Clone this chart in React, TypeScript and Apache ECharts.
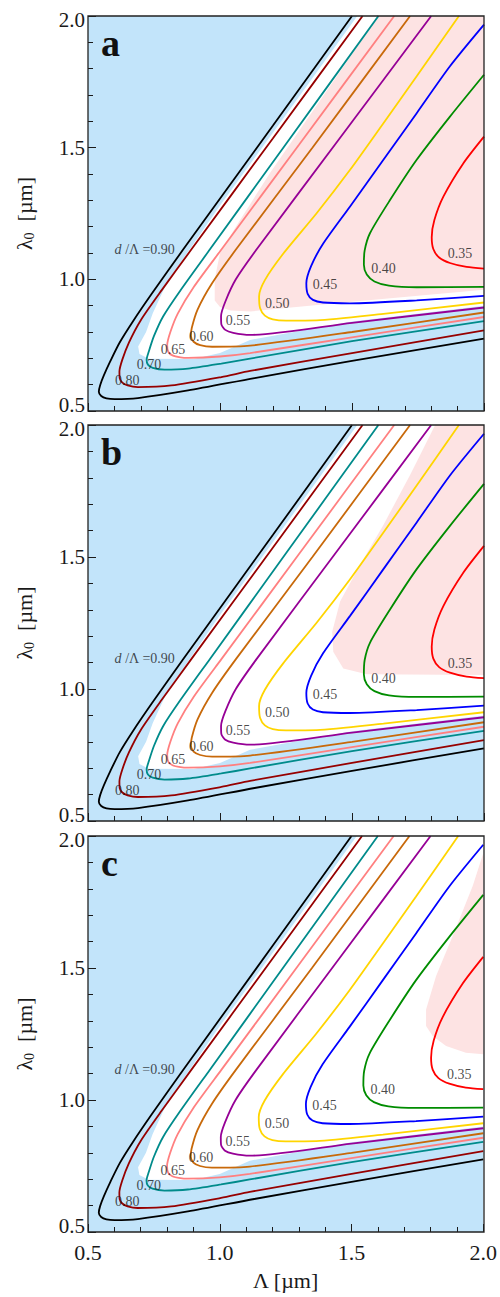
import { useEffect, useRef } from 'react';
import * as echarts from 'echarts';

// ---------- data ----------
const contourLevels = ['0.90', '0.80', '0.70', '0.65', '0.60', '0.55', '0.50', '0.45', '0.40', '0.35'];

const c090 = [[1.50, 2.0], [1.20, 1.583], [0.861, 1.114], [0.74, 0.943], [0.67, 0.84], [0.62, 0.76], [0.585, 0.69], [0.56, 0.635], [0.546, 0.598], [0.541, 0.573], [0.55, 0.557], [0.57, 0.548], [0.601, 0.545], [0.689, 0.549], [0.879, 0.578], [1.131, 0.625], [1.50, 0.69], [2.0, 0.775]];
const c080 = [[1.54, 2.0], [1.20, 1.535], [0.892, 1.114], [0.78, 0.96], [0.70, 0.845], [0.655, 0.76], [0.63, 0.695], [0.619, 0.65], [0.62, 0.625], [0.63, 0.608], [0.65, 0.597], [0.689, 0.591], [0.816, 0.597], [1.005, 0.629], [1.114, 0.652], [1.5, 0.72], [2.0, 0.806]];
const c070 = [[1.60, 2.0], [1.25, 1.514], [0.962, 1.114], [0.85, 0.958], [0.785, 0.86], [0.75, 0.785], [0.73, 0.725], [0.722, 0.695], [0.727, 0.676], [0.745, 0.664], [0.79, 0.657], [0.879, 0.661], [1.005, 0.680], [1.114, 0.699], [1.5, 0.765], [2.0, 0.841]];
const c065 = [[1.66, 2.0], [1.30, 1.512], [1.006, 1.114], [0.90, 0.97], [0.84, 0.87], [0.812, 0.80], [0.80, 0.75], [0.804, 0.725], [0.82, 0.711], [0.85, 0.704], [0.879, 0.702], [1.0, 0.707], [1.114, 0.72], [1.5, 0.78], [2.0, 0.857]];
const c060 = [[1.72, 2.0], [1.35, 1.50], [1.061, 1.114], [0.97, 0.985], [0.915, 0.885], [0.893, 0.815], [0.89, 0.785], [0.90, 0.763], [0.925, 0.75], [0.97, 0.744], [1.114, 0.748], [1.5, 0.80], [2.0, 0.874]];
const c055 = [[1.80, 2.0], [1.45, 1.531], [1.139, 1.114], [1.06, 1.0], [1.02, 0.915], [1.004, 0.86], [1.005, 0.83], [1.02, 0.808], [1.05, 0.797], [1.114, 0.789], [1.5, 0.835], [2.0, 0.893]];
const c050 = [[1.905, 2.0], [1.745, 1.771], [1.619, 1.593], [1.492, 1.415], [1.366, 1.251], [1.240, 1.098], [1.170, 0.997], [1.148, 0.935], [1.152, 0.89], [1.17, 0.862], [1.20, 0.848], [1.25, 0.843], [1.366, 0.844], [1.619, 0.869], [2.0, 0.912]];
const c045 = [[2.0, 1.967], [1.871, 1.809], [1.745, 1.631], [1.619, 1.454], [1.492, 1.276], [1.391, 1.136], [1.345, 1.05], [1.327, 0.985], [1.332, 0.945], [1.352, 0.922], [1.39, 0.912], [1.492, 0.909], [1.745, 0.92], [2.0, 0.937]];
const c040 = [[2.0, 1.777], [1.871, 1.618], [1.745, 1.454], [1.644, 1.301], [1.568, 1.175], [1.548, 1.11], [1.545, 1.055], [1.556, 1.018], [1.585, 0.992], [1.64, 0.976], [1.745, 0.970], [2.0, 0.971]];
const c035 = [[2.0, 1.542], [1.922, 1.441], [1.846, 1.314], [1.812, 1.225], [1.802, 1.16], [1.808, 1.115], [1.83, 1.083], [1.871, 1.062], [1.934, 1.047], [2.0, 1.041]];
const contourData = [c090, c080, c070, c065, c060, c055, c050, c045, c040, c035];

// contour label anchors (x, y) and texts
const labelX = [0.649, 0.731, 0.822, 0.929, 1.068, 1.217, 1.398, 1.619, 1.909];
const labelY = [0.616, 0.677, 0.734, 0.784, 0.842, 0.910, 0.981, 1.041, 1.098];
const labelText = ['0.80', '0.70', '0.65', '0.60', '0.55', '0.50', '0.45', '0.40', '0.35'];
const mainLabel = { x: 0.715, y: 1.114, value: '0.90' };

// shaded regions (white band, pink band per panel)
const whiteRegion = [[1.52, 2.0], [1.25, 1.625], [1.0, 1.28], [0.80, 0.99], [0.745, 0.87], [0.72, 0.80], [0.69, 0.745], [0.695, 0.716], [0.73, 0.698], [0.90, 0.697], [1.0, 0.72], [1.114, 0.77], [1.5, 0.84], [2.0, 0.90], [2.0, 2.0]];
const pinkRegionA = [[1.60, 2.0], [1.19, 1.405], [1.06, 1.20], [1.0, 1.10], [0.98, 1.0], [0.98, 0.92], [1.0, 0.895], [1.04, 0.882], [1.114, 0.878], [1.5, 0.915], [2.0, 0.96], [2.0, 2.0]];
const pinkRegionB = [[1.815, 2.0], [1.720, 1.811], [1.619, 1.621], [1.530, 1.470], [1.455, 1.331], [1.425, 1.217], [1.429, 1.141], [1.467, 1.078], [1.556, 1.056], [2.0, 1.053], [2.0, 2.0]];
const pinkRegionC = [[2.0, 1.935], [1.960, 1.811], [1.884, 1.621], [1.821, 1.470], [1.783, 1.343], [1.783, 1.280], [1.808, 1.242], [1.859, 1.205], [1.934, 1.179], [2.0, 1.173]];
const pinkRegions = [pinkRegionA, pinkRegionB, pinkRegionC];
const panelLetters = ['a', 'b', 'c'];

const axisMin = 0.5;
const axisMax = 2.0;
const axisInterval = 0.5;

// ---------- styles ----------
const contourColors = ['#000000', '#960000', '#008b8b', '#ff8080', '#c8690a', '#960096', '#ffd500', '#0000ff', '#008c00', '#ff0000'];
const BLUE = '#c2e4fa';
const PINK = '#fde3e3';
const WHITE = '#ffffff';
const FONT = '"Liberation Serif", "Times New Roman", serif';
const INK = '#1a1a1a';

const grids = [
  { left: 88, top: 16, width: 396, height: 395 },
  { left: 88, top: 425, width: 396, height: 396 },
  { left: 88, top: 836, width: 396, height: 396 },
];

function polygonSeries(points: number[][], fill: string, gi: number, z: number) {
  return {
    type: 'custom',
    xAxisIndex: gi,
    yAxisIndex: gi,
    z,
    silent: true,
    clip: true,
    data: points,
    encode: { x: 0, y: 1 },
    renderItem: (params: any, api: any) => {
      if (params.dataIndex !== 0) return null;
      const pts = points.map((p) => api.coord(p));
      return { type: 'polygon', shape: { points: pts }, style: { fill, stroke: null } };
    },
  };
}

const tickRich = {
  n: { fontFamily: FONT, fontSize: 21, color: INK, lineHeight: 14 },
  lo: { fontFamily: FONT, fontSize: 21, color: INK, lineHeight: 14, padding: [0, 0, 12, 0] },
  hi: { fontFamily: FONT, fontSize: 21, color: INK, lineHeight: 14, padding: [8, 0, 0, 0] },
};

export default function App() {
  const ref = useRef<HTMLDivElement>(null);

  useEffect(() => {
    if (!ref.current) return;
    const chart = echarts.init(ref.current, undefined, { renderer: 'svg' });

    const xAxis: any[] = [];
    const yAxis: any[] = [];
    const series: any[] = [];
    const graphic: any[] = [];

    grids.forEach((g, gi) => {
      const last = gi === grids.length - 1;
      xAxis.push({
        type: 'value',
        gridIndex: gi,
        min: axisMin,
        max: axisMax,
        interval: axisInterval,
        name: last ? 'Λ [µm]' : '',
        nameLocation: 'middle',
        nameGap: 37,
        nameTextStyle: { fontFamily: FONT, fontSize: 22, color: INK },
        axisLine: { show: false },
        axisTick: { show: true, inside: true, length: 8, lineStyle: { color: INK, width: 1 } },
        minorTick: { show: true, splitNumber: 5, length: 5, lineStyle: { color: INK, width: 1 } },
        splitLine: { show: false },
        axisLabel: {
          show: last,
          margin: 9,
          fontFamily: FONT,
          fontSize: 22,
          color: INK,
          formatter: (v: number) => v.toFixed(1),
        },
      });
      yAxis.push({
        type: 'value',
        gridIndex: gi,
        min: axisMin,
        max: axisMax,
        interval: axisInterval,
        name: '{a|λ}{s|0}{a|  [µm]}',
        nameLocation: 'middle',
        nameRotate: 90,
        nameGap: 52,
        nameTextStyle: {
          color: INK,
          rich: {
            a: { fontFamily: FONT, fontSize: 22, color: INK },
            s: { fontFamily: FONT, fontSize: 14, color: INK, padding: [10, 0, 0, 0] },
          },
        },
        axisLine: { show: false },
        axisTick: { show: true, inside: true, length: 8, lineStyle: { color: INK, width: 1 } },
        minorTick: { show: true, splitNumber: 5, length: 5, lineStyle: { color: INK, width: 1 } },
        splitLine: { show: false },
        axisLabel: {
          show: true,
          margin: 3,
          showMinLabel: true,
          showMaxLabel: true,
          formatter: (v: number) => {
            const t = v.toFixed(1);
            if (v === axisMin) return `{lo|${t}}`;
            if (v === axisMax) return `{hi|${t}}`;
            return `{n|${t}}`;
          },
          rich: tickRich,
        },
      });

      series.push(polygonSeries(whiteRegion, WHITE, gi, 1));
      series.push(polygonSeries(pinkRegions[gi], PINK, gi, 2));

      contourData.forEach((d, ci) => {
        series.push({
          type: 'line',
          name: contourLevels[ci],
          xAxisIndex: gi,
          yAxisIndex: gi,
          data: d,
          smooth: 0.25,
          showSymbol: false,
          symbol: 'none',
          clip: true,
          z: 3,
          lineStyle: { color: contourColors[ci], width: 1.8 },
          silent: true,
        });
      });

      series.push({
        type: 'scatter',
        xAxisIndex: gi,
        yAxisIndex: gi,
        symbolSize: 0,
        z: 4,
        silent: true,
        data: labelX.map((x, i) => [x, labelY[i], labelText[i]]),
        label: {
          show: true,
          position: 'inside',
          fontFamily: FONT,
          fontSize: 14,
          color: INK,
          formatter: (p: any) => p.value[2],
        },
      });
      series.push({
        type: 'scatter',
        xAxisIndex: gi,
        yAxisIndex: gi,
        symbolSize: 0,
        z: 4,
        silent: true,
        data: [[mainLabel.x, mainLabel.y, mainLabel.value]],
        label: {
          show: true,
          position: 'inside',
          formatter: (p: any) => `{i|d}{n| /Λ =${p.value[2]}}`,
          rich: {
            i: { fontFamily: FONT, fontSize: 14, fontStyle: 'italic', color: INK },
            n: { fontFamily: FONT, fontSize: 14, color: INK },
          },
        },
      });

      graphic.push({
        type: 'rect',
        z: 100,
        silent: true,
        shape: { x: g.left, y: g.top, width: g.width, height: g.height },
        style: { fill: 'none', stroke: '#222', lineWidth: 1.3 },
      });
      graphic.push({
        type: 'text',
        z: 100,
        silent: true,
        x: 101,
        y: g.top + 8,
        style: {
          text: panelLetters[gi],
          fontFamily: FONT,
          fontSize: 38,
          fontWeight: 'bold',
          fill: '#111',
        },
      });
    });

    chart.setOption({
      animation: false,
      backgroundColor: '#ffffff',
      grid: grids.map((g) => ({ ...g, show: true, backgroundColor: BLUE, borderWidth: 0 })),
      xAxis,
      yAxis,
      series,
      graphic,
    });

    return () => chart.dispose();
  }, []);

  return (
    <div
      ref={ref}
      style={{ position: 'fixed', left: 0, top: 0, width: 500, height: 1297, background: '#fff' }}
    />
  );
}
